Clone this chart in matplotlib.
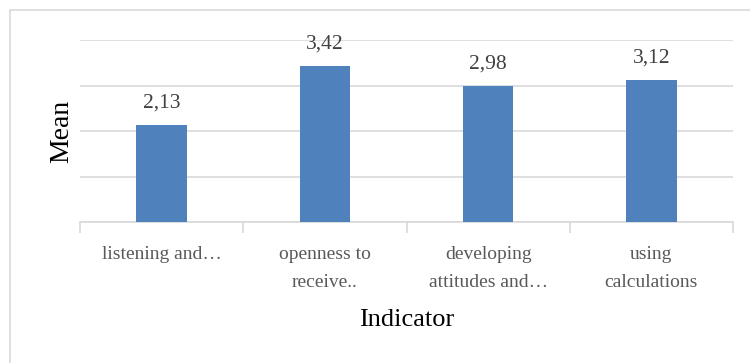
import matplotlib

matplotlib.use("Agg")

import matplotlib.pyplot as plt
from matplotlib.patches import Rectangle

categories = [
    "listening and\u2026",
    "openness to\nreceive..",
    "developing\nattitudes and\u2026",
    "using\ncalculations",
]
means = [2.13, 3.42, 2.98, 3.12]
value_labels = ["2,13", "3,42", "2,98", "3,12"]

BAR_COLOR = "#4F81BD"
GRID_COLOR = "#D9D9D9"
TEXT_GRAY = "#595959"

plt.rcParams["font.family"] = ["Liberation Serif", "DejaVu Serif"]

fig = plt.figure(figsize=(7.5, 3.63), dpi=100)

# outer chart frame (only left and top edges visible in the crop)
fig.patches.append(
    Rectangle(
        (10 / 750, -0.2),
        1.2,
        1.2 - 10 / 363,
        transform=fig.transFigure,
        fill=False,
        edgecolor=GRID_COLOR,
        linewidth=1.2,
    )
)

ax = fig.add_axes([80 / 750, 141 / 363, 653 / 750, 182 / 363])

x = range(len(categories))
ax.bar(x, means, width=0.31, color=BAR_COLOR, zorder=3)

for xi, v, lab in zip(x, means, value_labels):
    ax.text(xi, v + 0.39, lab, ha="center", va="baseline",
            fontsize=15.5, color="#404040")

ax.set_xlim(-0.5, len(categories) - 0.5)
ax.set_ylim(0, 4)
ax.set_yticks([0, 1, 2, 3, 4])
ax.set_yticklabels([])
ax.tick_params(axis="y", length=0, pad=0)
ax.yaxis.grid(True, color=GRID_COLOR, linewidth=1.2, zorder=0)

for side in ["top", "right", "left"]:
    ax.spines[side].set_visible(False)
ax.spines["bottom"].set_color(GRID_COLOR)
ax.spines["bottom"].set_linewidth(1.2)

# category labels between the boundary ticks
ax.set_xticks([i - 0.5 for i in range(len(categories) + 1)])
ax.set_xticklabels([])
ax.tick_params(axis="x", length=8, width=1.2, color=GRID_COLOR)
ax.set_xticks(list(x), minor=True)
ax.set_xticklabels(categories, minor=True, fontsize=14,
                   color=TEXT_GRAY, linespacing=1.8, va="top")
ax.tick_params(axis="x", which="minor", length=0, pad=17.5)

ax.set_xlabel("Indicator", fontsize=19, color="black", labelpad=13)
ax.set_ylabel("Mean", fontsize=20, color="black", labelpad=4)

fig.savefig("out.png", dpi=100)
